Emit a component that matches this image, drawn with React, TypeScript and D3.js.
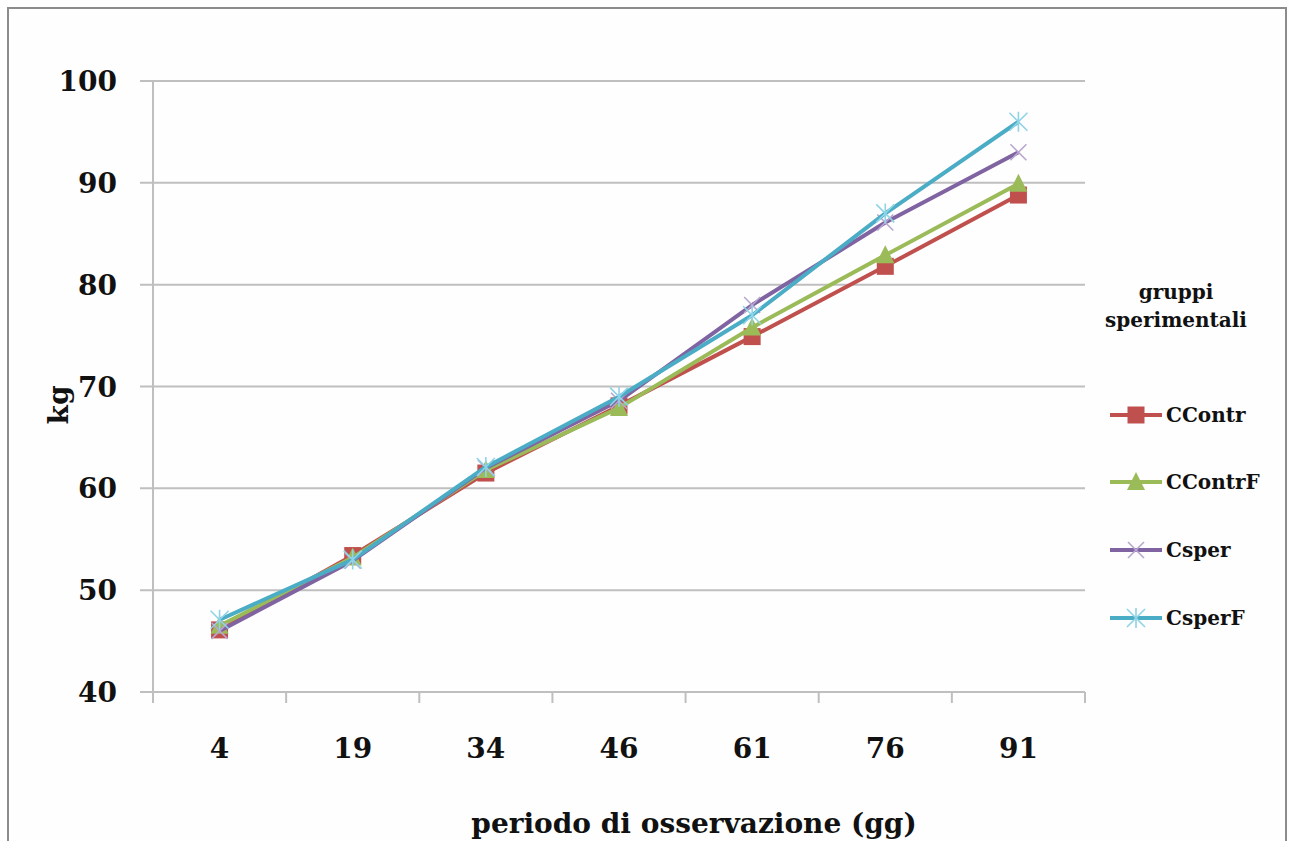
import React from "react";
import * as d3 from "d3";

const categories = ["4", "19", "34", "46", "61", "76", "91"];
const seriesNames = ["CContr", "CContrF", "Csper", "CsperF"];
const ccontr = [46.1, 53.4, 61.5, 68.1, 74.9, 81.8, 88.8];
const ccontrF = [46.5, 53.2, 61.8, 67.9, 75.8, 82.9, 89.9];
const csper = [46.0, 52.9, 62.0, 68.6, 78.0, 86.1, 93.0];
const csperF = [47.1, 53.0, 62.1, 69.0, 77.0, 87.0, 96.0];
const yTicks = [40, 50, 60, 70, 80, 90, 100];
const colors = ["#C0504D", "#9BBB59", "#8064A2", "#4BACC6"];
const markerColors = ["#C0504D", "#9BBB59", "#B9A6D0", "#8FD3E6"];
const markers = ["square", "triangle", "x", "star"];

const W = 1289;
const H = 841;
const FONT = "'DejaVu Serif', 'Liberation Serif', serif";

function Marker({ type, x, y, color }: { type: string; x: number; y: number; color: string }) {
  if (type === "square") {
    return <rect x={x - 8.5} y={y - 8.5} width={17} height={17} fill={color} />;
  }
  if (type === "triangle") {
    const s = 9;
    return <path d={`M${x},${y - s - 1}L${x + s},${y + s - 1}L${x - s},${y + s - 1}Z`} fill={color} />;
  }
  if (type === "x") {
    const s = 8;
    return (
      <path
        d={`M${x - s},${y - s}L${x + s},${y + s}M${x - s},${y + s}L${x + s},${y - s}`}
        stroke={color}
        strokeWidth={1.6}
      />
    );
  }
  const s = 9;
  return (
    <path
      d={`M${x - s},${y - s}L${x + s},${y + s}M${x - s},${y + s}L${x + s},${y - s}M${x},${y - s - 1}L${x},${y + s + 1}`}
      stroke={color}
      strokeWidth={1.6}
    />
  );
}

export default function App() {
  const x = d3.scaleBand<string>().domain(categories).range([153, 1085]).paddingInner(0).paddingOuter(0);
  const y = d3.scaleLinear().domain([40, 100]).range([692, 81]);
  const data = [ccontr, ccontrF, csper, csperF];
  const line = d3
    .line<number>()
    .x((_, i) => (x(categories[i]) as number) + x.bandwidth() / 2)
    .y((d) => y(d));

  const boundaries = categories.map((c) => x(c) as number).concat([1085]);
  const legendY = [415, 482, 550, 618];

  return (
    <svg
      width={W}
      height={H}
      style={{ position: "absolute", left: 0, top: 0, background: "#fefefe" }}
      fontFamily={FONT}
    >
      <rect x={8} y={8} width={1278} height={850} fill="#fefefe" stroke="#8c8c8c" strokeWidth={2} />
      {yTicks.map((t) => (
        <line key={t} x1={140} x2={1085} y1={y(t)} y2={y(t)} stroke="#bfbfbf" strokeWidth={2} />
      ))}
      <line x1={153} x2={153} y1={81} y2={692} stroke="#bfbfbf" strokeWidth={2} />
      {boundaries.map((b, i) => (
        <line key={i} x1={b} x2={b} y1={692} y2={703} stroke="#bfbfbf" strokeWidth={2} />
      ))}
      {yTicks.map((t) => (
        <text key={t} x={117} y={y(t)} dy="0.36em" textAnchor="end" fontSize={28} fontWeight="bold" fill="#111">
          {t}
        </text>
      ))}
      {categories.map((c) => (
        <text
          key={c}
          x={(x(c) as number) + x.bandwidth() / 2}
          y={748}
          dy="0.36em"
          textAnchor="middle"
          fontSize={28}
          fontWeight="bold"
          fill="#111"
        >
          {c}
        </text>
      ))}
      <text x={694} y={823} dy="0.36em" textAnchor="middle" fontSize={28} fontWeight="bold" fill="#111">
        periodo di osservazione (gg)
      </text>
      <text
        transform="translate(58,405) rotate(-90)"
        dy="0.36em"
        textAnchor="middle"
        fontSize={28}
        fontWeight="bold"
        fill="#111"
      >
        kg
      </text>
      {data.map((d, si) => (
        <g key={si}>
          <path d={line(d) as string} fill="none" stroke={colors[si]} strokeWidth={4} strokeLinejoin="round" />
          {d.map((v, i) => (
            <Marker
              key={i}
              type={markers[si]}
              x={(x(categories[i]) as number) + x.bandwidth() / 2}
              y={y(v)}
              color={markerColors[si]}
            />
          ))}
        </g>
      ))}
      <text x={1176} y={292} dy="0.36em" textAnchor="middle" fontSize={20} fontWeight="bold" fill="#111">
        gruppi
      </text>
      <text x={1176} y={320} dy="0.36em" textAnchor="middle" fontSize={20} fontWeight="bold" fill="#111">
        sperimentali
      </text>
      {seriesNames.map((n, si) => (
        <g key={n}>
          <line x1={1110} x2={1162} y1={legendY[si]} y2={legendY[si]} stroke={colors[si]} strokeWidth={4} />
          <Marker type={markers[si]} x={1136} y={legendY[si]} color={markerColors[si]} />
          <text x={1166} y={legendY[si]} dy="0.36em" fontSize={20} fontWeight="bold" fill="#111">
            {n}
          </text>
        </g>
      ))}
    </svg>
  );
}
